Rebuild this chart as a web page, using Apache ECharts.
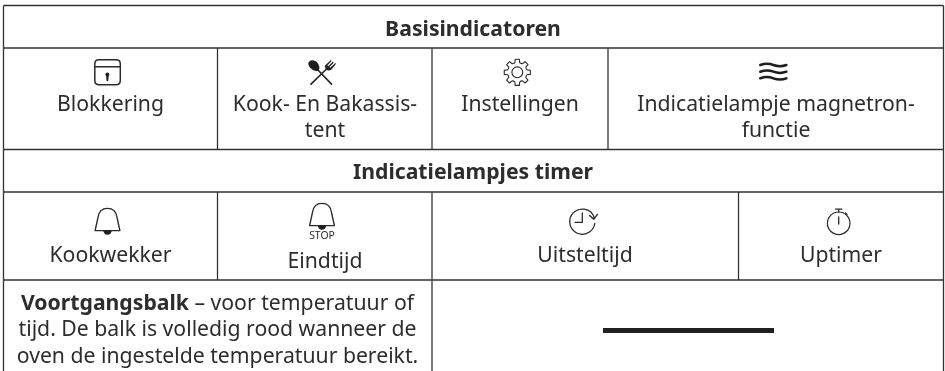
<!DOCTYPE html>
<html><head><meta charset="utf-8">
<style>html,body{margin:0;padding:0;background:#fff}#c{width:945px;height:371px}</style>
<script src="https://cdn.jsdelivr.net/npm/echarts@6/dist/echarts.min.js"></script>
</head><body><div id="c"></div>
<script>
// Content
const sectionTitles = ['Basisindicatoren', 'Indicatielampjes timer'];
const basicLabels = ['Blokkering', 'Kook- En Bakassis-\ntent', 'Instellingen', 'Indicatielampje magnetron-\nfunctie'];
const timerLabels = ['Kookwekker', 'Eindtijd', 'Uitsteltijd', 'Uptimer'];
const stopLabel = 'STOP';
const progressBold = 'Voortgangsbalk';
const progressLines = [' – voor temperatuur of', 'tijd. De balk is volledig rood wanneer de', 'oven de ingestelde temperatuur bereikt.'];

// Layout (page table geometry)
const L = 3.5, R = 943.5, B = 371;
const rowY = [5.5, 48, 149.5, 192, 280];
const colBasic = [217.5, 432, 608];
const colTimer = [217.5, 432, 738.5];
const INK = '#333333', TXT = '#2e2d2c', FONT = '"Noto Sans"', SIZE = 21.2;

const g = [];
const line = (x1, y1, x2, y2) => g.push({type:'line', silent:true, shape:{x1,y1,x2,y2}, style:{stroke:INK, lineWidth:1.3}});
rowY.forEach(y => line(L, y, R, y));
line(L, rowY[0], L, B); line(R, rowY[0], R, B);
colBasic.forEach(x => line(x, rowY[1], x, rowY[2]));
colTimer.forEach(x => line(x, rowY[3], x, rowY[4]));
line(colBasic[1], rowY[4], colBasic[1], B);

const text = (t, x, y, o={}) => g.push({type:'text', silent:true, x, y, style:Object.assign({text:t, fill:TXT, font:`${o.weight||'normal'} ${o.size||SIZE}px ${FONT}`, align:'center', verticalAlign:'middle', lineHeight:26}, o.extra||{})});

text(sectionTitles[0], 473, 29.5, {weight:'bold'});
text(sectionTitles[1], 473, 173, {weight:'bold'});

const basicX = [110.5, 325, 520, 776], basicY = [105, 118, 105, 118];
basicLabels.forEach((t,i) => text(t, basicX[i], basicY[i]));
const timerX = [110.5, 325, 585, 841], timerY = [256, 261.5, 256, 256];
timerLabels.forEach((t,i) => text(t, timerX[i], timerY[i]));
text(stopLabel, 322, 236.5, {size:10.4, extra:{lineHeight:12}});

// Bottom-left rich text
g.push({type:'text', silent:true, x:217.5, y:303.5, style:{
  rich:{b:{font:`bold ${SIZE}px ${FONT}`, fill:TXT}, n:{font:`normal ${SIZE}px ${FONT}`, fill:TXT}},
  text:`{b|${progressBold}}{n|${progressLines[0]}}`, align:'center', verticalAlign:'middle'}});
text(progressLines[1], 217.5, 330);
text(progressLines[2], 217.5, 356.5);

// Progress bar
g.push({type:'rect', silent:true, shape:{x:603, y:328, width:171, height:5}, style:{fill:'#231f20'}});

// Icons: each path is registered as a custom graphic shape
let pid = 0;
const regPath = (d) => { const name = 'iconPath' + (pid++); echarts.graphic.registerShape(name, echarts.graphic.extendPath(d, {})); return name; };
const stroke = (d, w=1.3, col='#2b2a29') => g.push({type:regPath(d), silent:true, style:{fill:'none', stroke:col, lineWidth:w, lineCap:'round', lineJoin:'round'}});
const fill = (d) => g.push({type:regPath(d), silent:true, style:{fill:'#1f1e1d', stroke:'none'}});
// lock
stroke('M99 59.8 H116 Q120.3 59.8 120.3 64 V80.6 Q120.3 84.8 116 84.8 H99 Q94.8 84.8 94.8 80.6 V64 Q94.8 59.8 99 59.8 Z M94.8 66.8 H120.3', 1.5);
fill('M107.4 72.6 a2 2 0 0 1 1.3 3.5 L108.2 81 H106.6 L106.1 76.1 a2 2 0 0 1 1.3 -3.5 Z');
// spoon & fork
stroke('M317 69 L331.5 84.2', 1.7);
fill('M309.2 61.4 C311.6 59.4 315.4 60.2 317.6 63 C319.6 65.4 320 68.6 318.6 70.2 C317 71.8 313.4 71 311 68.6 C308.6 66.2 307.4 63 309.2 61.4 Z');
stroke('M311 84.2 L327.5 68', 1.7);
fill('M326 69.5 L324.6 66 L330.8 60 L331.6 60.8 L327.4 65.6 L328.2 66.3 L333 61.6 L333.8 62.4 L329.4 67 L330.2 67.8 L335.4 63 L336 63.8 L331.5 69.4 Q329 71.5 326 69.5 Z');
// gear
{
  const cx=517.3, cy=72.3, n=8, ro=13.2, ri=10;
  const dirs=[...Array(n).keys()].map(i=>i*Math.PI*2/n - Math.PI/2);
  let d='';
  dirs.forEach((a,i)=>{
    const p=(r,off)=>[(cx+r*Math.cos(a+off)).toFixed(2),(cy+r*Math.sin(a+off)).toFixed(2)].join(' ');
    d+=(i?'L':'M')+p(ri,-0.24)+' L'+p(ro,-0.16)+' L'+p(ro,0.16)+' L'+p(ri,0.24)+' ';
    d+='Q'+p(ri-0.8,Math.PI/n)+' '+p(ri,2*Math.PI/n-0.24)+' ';
  });
  stroke(d+'Z',1.1);
  g.push({type:'circle',silent:true,shape:{cx,cy,r:5.4},style:{fill:'none',stroke:'#2b2a29',lineWidth:1.1}});
}
// waves
[65,71.7,78.3].forEach(y=>stroke(`M760.3 ${y} C765 ${y-1.7} 769 ${y-1.7} 773.4 ${y} C778 ${y+1.7} 782 ${y+1.7} 786.4 ${y}`,2.5,'#1f1e1d'));
// bells
const bell=(cx,ty)=>{
  stroke(`M${cx-12.4} ${ty+22.2} H${cx+12.4} L${cx+9.5} ${ty+9} C${cx+8.6} ${ty+2.5} ${cx+5} ${ty} ${cx} ${ty} C${cx-5} ${ty} ${cx-8.6} ${ty+2.5} ${cx-9.5} ${ty+9} Z`,1.4);
  fill(`M${cx-4.2} ${ty+22.2} H${cx+4.2} A4.2 4.2 0 0 1 ${cx-4.2} ${ty+22.2} Z`);
};
bell(107.5,208.4); bell(322,203.4);
// clock with arrow
stroke('M594.8 223.5 A12.6 12.6 0 1 1 594.5 218.4 M582.3 213 V222.3 H575',1.3);
stroke('M589.6 215.4 L593.8 219.2 L597.4 214.4',1.4);
// stopwatch
g.push({type:'circle',silent:true,shape:{cx:838.7,cy:223.3,r:11.3},style:{fill:'none',stroke:'#2b2a29',lineWidth:1.2}});
stroke('M838.7 217 V224 M835.5 209.2 H841.9 M838.7 209.2 V212 M845.5 213 L847 214.5',1.3);

echarts.init(document.getElementById('c'),null,{renderer:'canvas'}).setOption({animation:false, backgroundColor:'#fff', graphic:{elements:g}});
</script></body></html>
